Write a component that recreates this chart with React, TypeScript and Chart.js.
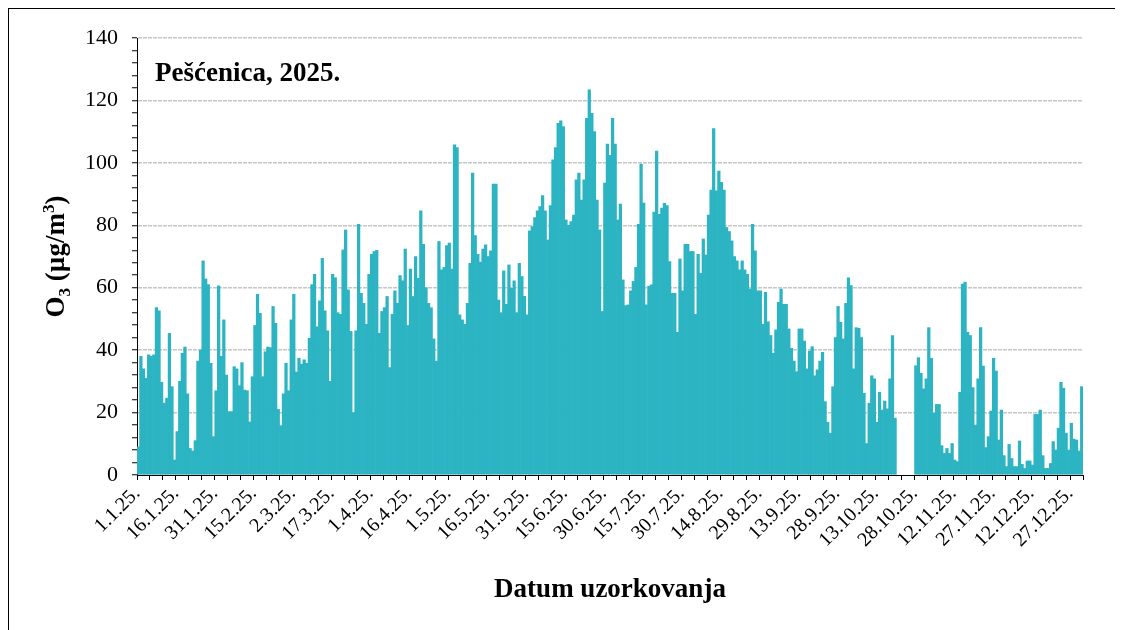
import React, { useEffect, useRef } from 'react';
import { Chart, registerables } from 'chart.js';

Chart.register(...registerables);

// Daily O3 concentrations (µg/m3), Pešćenica 2025 — one array per month
const o3Jan = [9, 38, 34, 31, 38.5, 38, 38.5, 53.6, 52.6, 29.7, 23, 24.6, 45.4, 28.3, 4.8, 13.9, 30, 39, 41, 26, 8.5, 7.7, 11, 36.5, 40, 68.6, 62.8, 61, 35.8, 12.3, 27];
const o3Feb = [60.6, 38, 49.7, 32, 20.3, 20.3, 34.7, 34, 28.6, 36, 27.2, 27, 17, 31.5, 47.9, 57.9, 51.8, 31.5, 39.5, 41, 40.8, 54, 48.6, 21, 15.8, 26, 35.8, 27];
const o3Mar = [49.7, 57.9, 33, 37.4, 35.5, 36.9, 35.8, 43.8, 61, 64.3, 47.5, 55.8, 69.4, 52.6, 46.2, 30, 64.3, 63.2, 52, 51.5, 72.1, 78.5, 59.3, 46, 20, 46.2, 80.3, 58.2, 55, 48.3, 64.3];
const o3Apr = [70.7, 71.6, 72, 45.4, 52.4, 53.6, 57.2, 34.4, 51.5, 59, 55, 63.9, 62.2, 72.4, 47.9, 66, 57.2, 70, 63, 84.6, 73.9, 60, 55, 53.6, 43.6, 36.5, 74.8, 65.7, 66.5, 73.5];
const o3May = [74.3, 66, 105.8, 104.9, 51.3, 49.7, 48.3, 55, 67.8, 96.7, 76.7, 70.7, 68.2, 72.4, 73.7, 70, 71.8, 93.2, 93.2, 56, 52, 65.4, 54.7, 67.3, 59.8, 62.2, 52, 67.8, 63.6, 57.2, 51.3];
const o3Jun = [78.2, 79.6, 82.5, 84.6, 86, 89.5, 84.6, 75.3, 86.3, 101, 104.9, 112.7, 113.5, 111.6, 81.7, 80, 81.2, 83.3, 94.6, 96.7, 88.1, 94.6, 114.3, 123.4, 115.9, 110, 88.1, 78.5, 52.4, 93.5];
const o3Jul = [106, 102.4, 114.3, 106, 81.7, 86.8, 62.5, 54.3, 54.5, 59, 62, 66.5, 80.3, 99.6, 87.1, 54.5, 60.5, 60.9, 84.2, 103.8, 83.5, 85.5, 87, 86.3, 68.4, 58.2, 58.2, 45.7, 69.2, 59, 73.9];
const o3Aug = [73.9, 71.6, 71.6, 51.5, 70.7, 64.6, 75.6, 70.5, 83.3, 91.3, 111, 91, 97.4, 93.8, 91.3, 79.3, 78, 75, 70, 68.6, 65.7, 68.6, 65.7, 64.3, 59.6, 80.3, 71.8, 59, 59, 48.3, 58.5];
const o3Sep = [49.1, 44.7, 39, 46.5, 55.3, 59.6, 54.7, 54.7, 46.8, 40.6, 36.5, 33.1, 46.8, 46.8, 42.9, 34, 39.7, 41.1, 31.8, 33.7, 36.5, 39.3, 23.5, 16.9, 13.4, 28.3, 44, 54, 48.9, 43.6];
const o3Oct = [55, 63.2, 60.7, 34, 47.2, 47, 44, 26.2, 10.1, 23, 31.8, 30.8, 16.9, 26.5, 20.8, 23.7, 21.2, 30.8, 44.7, 18.2, null, null, null, null, null, null, null, 35, 37.6, 32.6, 27.6];
const o3Nov = [30.8, 47.2, 37.4, 19.8, 22.6, 22.6, 9.4, 6.9, 8.5, 6.9, 10.1, 4.8, 4.3, 26.5, 61.2, 61.8, 45.7, 44.7, 28, 16, 30.8, 47.2, 34.9, 8.8, 12.3, 20.5, 37.4, 33.3, 11.2, 20.8];
const o3Dec = [6.2, 2.7, 9.8, 5.3, 2.7, 2.7, 10.9, 3.4, 2.1, 4.5, 4.5, 3.2, 19.4, 19.4, 20.8, 6.2, 2.1, 2.1, 3.7, 10.7, 8, 15, 29.7, 27.8, 13.4, 8, 16.6, 11.5, 11.2, 7.7, 28.3];

const months: (number | null)[][] = [o3Jan, o3Feb, o3Mar, o3Apr, o3May, o3Jun, o3Jul, o3Aug, o3Sep, o3Oct, o3Nov, o3Dec];

// Date labels shown every 15 days
const tickLabels = ['1.1.25.', '16.1.25.', '31.1.25.', '15.2.25.', '2.3.25.', '17.3.25.', '1.4.25.', '16.4.25.', '1.5.25.', '16.5.25.', '31.5.25.', '15.6.25.', '30.6.25.', '15.7.25.', '30.7.25.', '14.8.25.', '29.8.25.', '13.9.25.', '28.9.25.', '13.10.25.', '28.10.25.', '12.11.25.', '27.11.25.', '12.12.25.', '27.12.25.'];
const labelEvery = 15;
const minorEvery = 5;
const yMax = 140;
const yMajor = 20;
const yMinor = 4;

const chartTitle = 'Pešćenica, 2025.';
const xTitle = 'Datum uzorkovanja';

const FONT = '"Liberation Serif", "Times New Roman", serif';
const BAR = '#2cb4c3';

export default function App() {
  const ref = useRef<HTMLCanvasElement>(null);

  useEffect(() => {
    document.documentElement.style.overflow = 'hidden';
    document.body.style.overflow = 'hidden';
    const values = months.flat();
    const nDays = values.length;
    const data = values
      .map((v, i) => ({ x: i + 0.5, y: v }))
      .filter((p) => p.y !== null);

    const textPlugin = {
      id: 'texts',
      afterDraw(chart: any) {
        const ctx = chart.ctx as CanvasRenderingContext2D;
        const area = chart.chartArea;
        ctx.save();
        ctx.fillStyle = '#000';
        ctx.textAlign = 'left';
        ctx.textBaseline = 'alphabetic';
        ctx.font = `bold 27px ${FONT}`;
        ctx.fillText(chartTitle, area.left + 18, area.top + 43);

        // Y axis title with subscript / superscript
        const big = `bold 27px ${FONT}`;
        const small = `bold 17px ${FONT}`;
        const parts = [
          { t: 'O', f: big, dy: 0 },
          { t: '3', f: small, dy: 6 },
          { t: ' (µg/m', f: big, dy: 0 },
          { t: '3', f: small, dy: -10 },
          { t: ')', f: big, dy: 0 },
        ];
        let total = 0;
        const widths = parts.map((p) => {
          ctx.font = p.f;
          const w = ctx.measureText(p.t).width;
          total += w;
          return w;
        });
        const cy = (area.top + area.bottom) / 2;
        ctx.translate(55, cy);
        ctx.rotate(-Math.PI / 2);
        let x = -total / 2;
        parts.forEach((p, i) => {
          ctx.font = p.f;
          ctx.fillText(p.t, x, p.dy);
          x += widths[i];
        });
        ctx.restore();
      },
    };

    const chart = new Chart(ref.current!, {
      type: 'bar',
      data: {
        datasets: [
          {
            data: data as any,
            backgroundColor: BAR,
            borderWidth: 0,
            barPercentage: 1,
            categoryPercentage: 1,
          },
        ],
      },
      options: {
        animation: false,
        responsive: false,
        events: [],
        layout: { padding: { left: 0, right: 32, top: 29, bottom: 0 } },
        plugins: {
          legend: { display: false },
          tooltip: { enabled: false },
        },
        scales: {
          x: {
            type: 'linear',
            min: 0,
            max: nDays,
            offset: false,
            afterFit(scale: any) {
              scale.height = 155;
            },
            grid: {
              offset: false,
              drawOnChartArea: false,
              drawTicks: true,
              tickLength: 5,
              tickColor: '#000',
              color: '#000',
            },
            border: { color: '#000', width: 1 },
            ticks: {
              stepSize: minorEvery,
              autoSkip: false,
              minRotation: 45,
              maxRotation: 45,
              padding: 2,
              color: '#000',
              font: { family: FONT, size: 20 },
              callback: (v: any) => {
                const n = Math.round(Number(v));
                return n % labelEvery === 0 && tickLabels[n / labelEvery] ? tickLabels[n / labelEvery] : '';
              },
            },
            title: {
              display: true,
              text: xTitle,
              color: '#000',
              font: { family: FONT, size: 27, weight: 'bold' },
              padding: { top: 0, bottom: 24 },
            },
          },
          y: {
            min: 0,
            max: yMax,
            afterFit(scale: any) {
              scale.width = 128;
            },
            grid: {
              color: (c: any) =>
                c.tick && c.tick.value % yMajor === 0 && c.tick.value !== 0 ? '#c6c6c6' : 'rgba(0,0,0,0)',
              lineWidth: 1.5,
              tickLength: 5,
              tickColor: '#000',
              tickWidth: 1,
              tickBorderDash: [],
              drawTicks: true,
            } as any,
            border: { color: '#000', width: 1, dash: [4, 1] },
            ticks: {
              stepSize: yMinor,
              autoSkip: false,
              padding: 14,
              color: '#000',
              font: { family: FONT, size: 22 },
              callback: (v: any) => (Number(v) % yMajor === 0 ? String(v) : ''),
            },
          },
        },
      },
      plugins: [textPlugin],
    });
    return () => chart.destroy();
  }, []);

  return (
    <div
      style={{
        width: 1109,
        height: 660,
        border: '1px solid #000',
        boxSizing: 'border-box',
        background: '#fff',
        overflow: 'hidden',
      }}
    >
      <canvas ref={ref} width={1106} height={621} style={{ display: 'block' }} />
    </div>
  );
}
